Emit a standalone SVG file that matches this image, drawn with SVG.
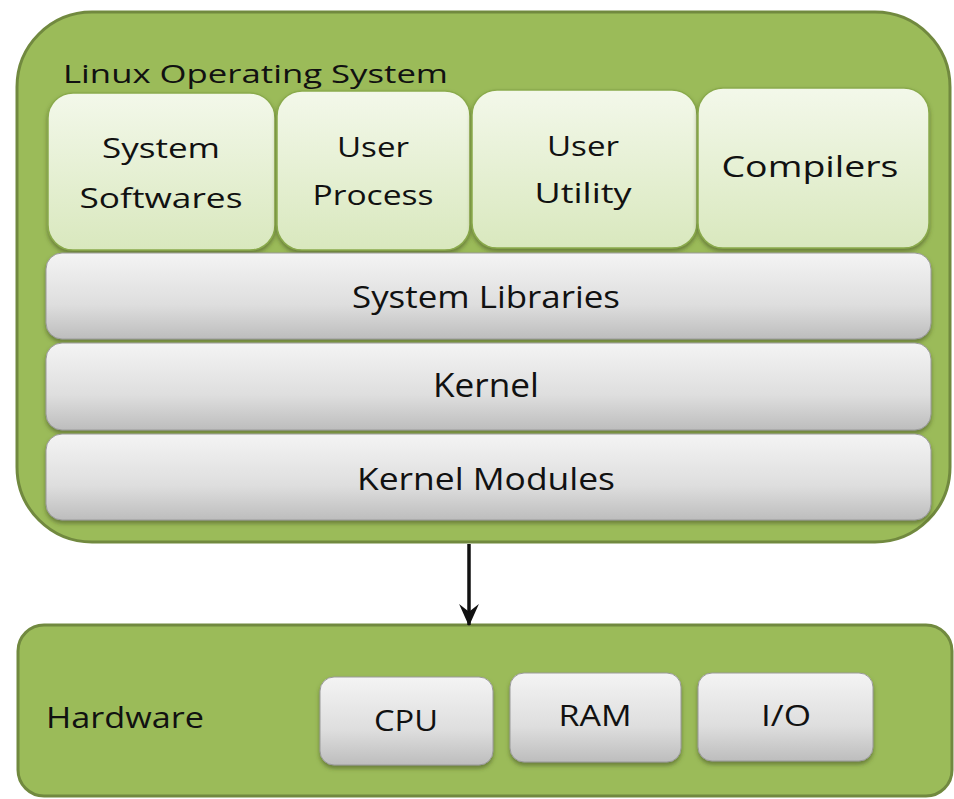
<svg xmlns="http://www.w3.org/2000/svg" width="954" height="799" viewBox="0 0 954 799">
<style>
.txt{font-family:"Open Sans","Liberation Sans",sans-serif;fill:#111}
.outer{fill:#9BBB59;stroke:#71893F;stroke-width:3}
.gbox{fill:url(#gGreen);stroke:#8AAA4C;stroke-width:1.5;filter:url(#sh)}
.bar{fill:url(#gGray);stroke:#9a9a9a;stroke-width:1;filter:url(#sh)}
.conn{stroke:#111;stroke-width:3.5;fill:none}
</style>
<defs>
<linearGradient id="gGreen" x1="0" y1="0" x2="0" y2="1">
<stop offset="0" stop-color="#F3F8EA"/>
<stop offset="1" stop-color="#D9E8BE"/>
</linearGradient>
<linearGradient id="gGray" x1="0" y1="0" x2="0" y2="1">
<stop offset="0" stop-color="#F4F4F4"/>
<stop offset="0.6" stop-color="#DEDEDE"/>
<stop offset="1" stop-color="#BDBDBD"/>
</linearGradient>
<filter id="sh" x="-5%" y="-10%" width="110%" height="125%">
<feDropShadow dx="0" dy="3" stdDeviation="2" flood-color="#3d4d1c" flood-opacity="0.55"/>
</filter>
<marker id="arr" viewBox="0 0 10 10" refX="9.5" refY="5" markerWidth="22" markerHeight="24" markerUnits="userSpaceOnUse" orient="auto">
<path d="M0,0.5 L10,5 L0,9.5 L3.5,5 z" fill="#111"/>
</marker>
</defs>
<rect width="954" height="799" fill="#ffffff"/>

<g id="linux-os">
<rect class="outer" x="17" y="12" width="933" height="530" rx="75" ry="75"/>
<text class="txt" x="63" y="83" font-size="25" textLength="385" lengthAdjust="spacingAndGlyphs">Linux Operating System</text>
</g>

<g id="system-softwares">
<rect class="gbox" x="48" y="93" width="227" height="157" rx="25"/>
<text class="txt" x="161" y="158" font-size="28" text-anchor="middle" textLength="118" lengthAdjust="spacingAndGlyphs">System</text>
<text class="txt" x="161" y="208" font-size="28" text-anchor="middle" textLength="163" lengthAdjust="spacingAndGlyphs">Softwares</text>
</g>

<g id="user-process">
<rect class="gbox" x="277" y="91" width="193" height="159" rx="25"/>
<text class="txt" x="373" y="157" font-size="28" text-anchor="middle" textLength="72" lengthAdjust="spacingAndGlyphs">User</text>
<text class="txt" x="373" y="205" font-size="28" text-anchor="middle" textLength="121" lengthAdjust="spacingAndGlyphs">Process</text>
</g>

<g id="user-utility">
<rect class="gbox" x="472" y="90" width="225" height="158" rx="25"/>
<text class="txt" x="583" y="156" font-size="28" text-anchor="middle" textLength="72" lengthAdjust="spacingAndGlyphs">User</text>
<text class="txt" x="583" y="203" font-size="28" text-anchor="middle" textLength="97" lengthAdjust="spacingAndGlyphs">Utility</text>
</g>

<g id="compilers">
<rect class="gbox" x="698" y="88" width="231" height="160" rx="25"/>
<text class="txt" x="810" y="177" font-size="29" text-anchor="middle" textLength="177" lengthAdjust="spacingAndGlyphs">Compilers</text>
</g>

<g id="system-libraries">
<rect class="bar" x="46" y="253" width="885" height="86" rx="16"/>
<text class="txt" x="486" y="308" font-size="31" text-anchor="middle" textLength="268" lengthAdjust="spacingAndGlyphs">System Libraries</text>
</g>

<g id="kernel">
<rect class="bar" x="46" y="343" width="885" height="87" rx="16"/>
<text class="txt" x="486" y="397" font-size="32" text-anchor="middle" textLength="106" lengthAdjust="spacingAndGlyphs">Kernel</text>
</g>

<g id="kernel-modules">
<rect class="bar" x="46" y="434" width="885" height="86" rx="16"/>
<text class="txt" x="486" y="490" font-size="31" text-anchor="middle" textLength="258" lengthAdjust="spacingAndGlyphs">Kernel Modules</text>
</g>

<g id="hardware">
<rect class="outer" x="18" y="625" width="934" height="171" rx="26" ry="26"/>
<text class="txt" x="46" y="728" font-size="29" textLength="158" lengthAdjust="spacingAndGlyphs">Hardware</text>
</g>

<g id="cpu">
<rect class="bar" x="320" y="677" width="173" height="88" rx="14"/>
<text class="txt" x="406" y="731" font-size="30" text-anchor="middle" textLength="64" lengthAdjust="spacingAndGlyphs">CPU</text>
</g>

<g id="ram">
<rect class="bar" x="510" y="673" width="171" height="89" rx="14"/>
<text class="txt" x="595" y="726" font-size="30" text-anchor="middle" textLength="73" lengthAdjust="spacingAndGlyphs">RAM</text>
</g>

<g id="io">
<rect class="bar" x="698" y="673" width="175" height="88" rx="14"/>
<text class="txt" x="786" y="726" font-size="30" text-anchor="middle" textLength="50" lengthAdjust="spacingAndGlyphs">I/O</text>
</g>

<g id="connectors">
<line class="conn" x1="469" y1="544" x2="469" y2="625" marker-end="url(#arr)"/>
</g>
</svg>
